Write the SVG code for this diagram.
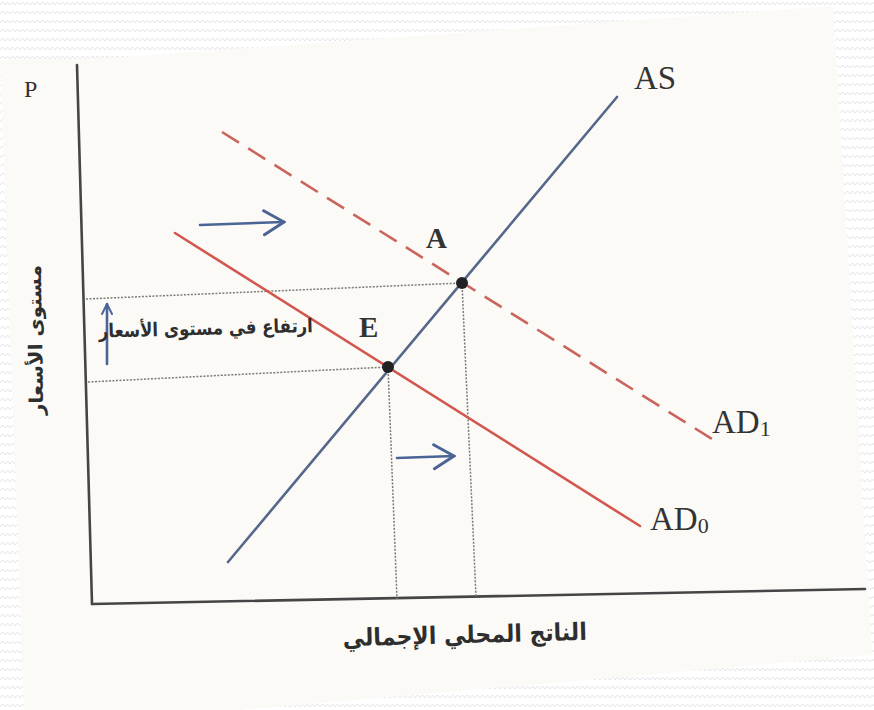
<svg xmlns="http://www.w3.org/2000/svg" width="874" height="710" viewBox="0 0 874 710">
  <defs>
    <pattern id="zig" width="10" height="9" patternUnits="userSpaceOnUse">
      <rect width="10" height="9" fill="#ffffff"/>
      <path d="M0 5 L2.5 2 L5 5 L7.5 2 L10 5" fill="none" stroke="#e4e4e4" stroke-width="1"/>
    </pattern>
    <marker id="openArrow" viewBox="0 0 12 12" refX="11" refY="6" markerWidth="12" markerHeight="12" markerUnits="userSpaceOnUse" orient="auto">
      <path d="M1 1 L11 6 L1 11" fill="none" stroke="#4a6496" stroke-width="2" stroke-linecap="round"/>
    </marker>
    <marker id="bigArrow" viewBox="0 0 24 28" refX="22" refY="14" markerWidth="24" markerHeight="28" markerUnits="userSpaceOnUse" orient="auto">
      <path d="M2 2 L22 14 L2 26" fill="none" stroke="#4a6496" stroke-width="3" stroke-linecap="round"/>
    </marker>
  </defs>
  <style>
    .axis { stroke: #454545; stroke-width: 2.6; fill: none; stroke-linecap: round; }
    .guide { stroke: #7a7a7a; stroke-width: 1.5; stroke-dasharray: 2 1.5; fill: none; }
    .as { stroke: #56678c; stroke-width: 2.6; fill: none; stroke-linecap: round; }
    .ad0 { stroke: #d2574f; stroke-width: 2.6; fill: none; stroke-linecap: round; }
    .ad1 { stroke: #c9655d; stroke-width: 2.6; fill: none; stroke-dasharray: 20 11; }
    .shift { stroke: #4a6496; stroke-width: 2.6; fill: none; stroke-linecap: round; }
    .dot { fill: #222222; }
    .lbl { font-family: "Liberation Serif", "Times New Roman", serif; fill: #333333; }
    .ar { font-family: "DejaVu Sans", sans-serif; font-weight: bold; fill: #2e2e2e; }
  </style>

  <!-- background -->
  <rect width="874" height="710" fill="url(#zig)"/>
  <polygon points="0,60 110,58 833,6 872,655 240,710 24,710" fill="#fbfaf7"/>

  <!-- axes -->
  <g id="axes">
    <line class="axis" x1="77" y1="65" x2="92" y2="604"/>
    <line class="axis" x1="92" y1="604" x2="865" y2="589"/>
    <text class="lbl" x="24" y="97" font-size="24">P</text>
    <text class="ar" font-size="19" font-weight="normal" transform="translate(42,340) rotate(-91)" text-anchor="middle" textLength="150" lengthAdjust="spacingAndGlyphs">مستوى الأسعار</text>
    <text class="ar" x="465" y="643" font-size="24" text-anchor="middle" textLength="244" lengthAdjust="spacingAndGlyphs" transform="rotate(-1.5 465 643)">الناتج المحلي الإجمالي</text>
  </g>

  <!-- guide lines and shift arrows -->
  <g id="connectors">
    <line class="guide" x1="86" y1="299" x2="462" y2="283"/>
    <line class="guide" x1="88" y1="382" x2="388" y2="367"/>
    <line class="guide" x1="388" y1="367" x2="397" y2="599"/>
    <line class="guide" x1="462" y1="283" x2="476" y2="597"/>
    <line class="shift" x1="200" y1="225" x2="284" y2="222" marker-end="url(#bigArrow)"/>
    <line class="shift" x1="397" y1="458" x2="454" y2="456" marker-end="url(#bigArrow)"/>
    <line class="shift" x1="107" y1="364" x2="107" y2="304" stroke-width="2" marker-end="url(#openArrow)"/>
  </g>

  <!-- curves -->
  <g id="AS">
    <line class="as" x1="228" y1="562" x2="617" y2="97"/>
    <text class="lbl" x="634" y="89" font-size="33">AS</text>
  </g>
  <g id="AD0">
    <line class="ad0" x1="175" y1="233" x2="640" y2="526"/>
    <text class="lbl" x="650" y="530" font-size="33">AD<tspan font-size="22" dy="3">0</tspan></text>
  </g>
  <g id="AD1">
    <path class="ad1" d="M222 132 L712 439"/>
    <text class="lbl" x="712" y="433" font-size="33">AD<tspan font-size="22" dy="3">1</tspan></text>
  </g>

  <!-- equilibrium points -->
  <g id="E">
    <circle class="dot" cx="388" cy="367" r="6"/>
    <text class="lbl" x="359" y="337" font-size="29" font-weight="bold">E</text>
  </g>
  <g id="A">
    <circle class="dot" cx="462" cy="283" r="6"/>
    <text class="lbl" x="426" y="248" font-size="29" font-weight="bold">A</text>
  </g>

  <!-- price rise label -->
  <g id="price-rise">
    <text class="ar" x="313" y="332" font-size="19" text-anchor="end" textLength="214" lengthAdjust="spacingAndGlyphs" transform="rotate(-1.5 313 332)">ارتفاع في مستوى الأسعار</text>
  </g>
</svg>
